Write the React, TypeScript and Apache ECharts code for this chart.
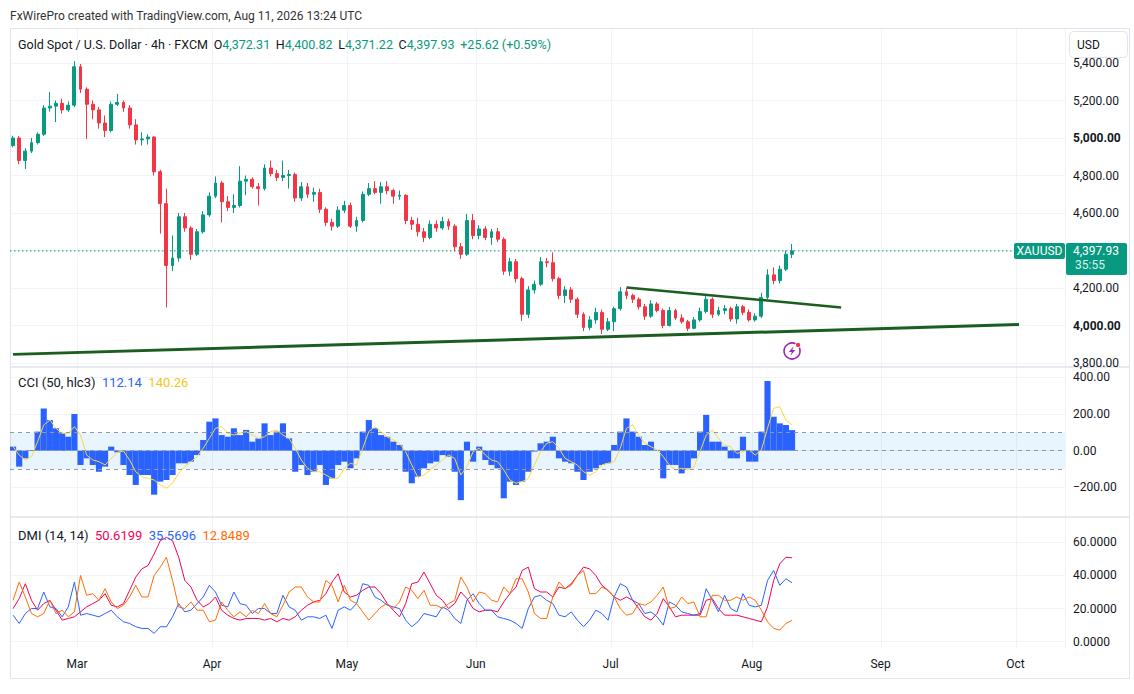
import React, { useEffect, useRef } from 'react';
import * as echarts from 'echarts';

const MONTHS = ['Jan', 'Feb', 'Mar', 'Apr', 'May', 'Jun', 'Jul', 'Aug', 'Sep', 'Oct', 'Nov', 'Dec'];

// time scale: trading days (weekdays), price data ends on Aug 11
const firstDay = '2026-02-13';
const lastDay = '2026-10-12';

const dates: string[] = [];
for (let t = Date.parse(firstDay); t <= Date.parse(lastDay); t += 86400000) {
  const d = new Date(t);
  const wd = d.getUTCDay();
  if (wd !== 0 && wd !== 6) dates.push(d.toISOString().slice(0, 10));
}

// daily candles: open, high, low, close
const candles: number[][] = [
  [4960, 5012, 4950, 5000], [5000, 5010, 4860, 4880], [4880, 4945, 4835, 4930], [4930, 5000, 4920, 4975],
  [4975, 5030, 4965, 5020], [5020, 5175, 5010, 5160], [5160, 5245, 5140, 5170], [5170, 5200, 5085, 5185],
  [5185, 5210, 5130, 5150], [5150, 5195, 5140, 5175], [5175, 5410, 5165, 5380], [5380, 5395, 5240, 5260],
  [5260, 5270, 4995, 5180], [5180, 5200, 5100, 5150], [5150, 5165, 5050, 5080], [5080, 5120, 5005, 5040],
  [5040, 5195, 5030, 5180], [5180, 5235, 5170, 5190], [5190, 5200, 5140, 5160], [5160, 5175, 5050, 5070],
  [5070, 5100, 4965, 4990], [4990, 5030, 4960, 4995], [4995, 5020, 4965, 5005], [5005, 5010, 4800, 4820],
  [4820, 4830, 4490, 4650], [4650, 4730, 4096, 4320], [4320, 4480, 4290, 4360], [4360, 4600, 4340, 4580],
  [4580, 4600, 4500, 4520], [4520, 4530, 4350, 4380], [4380, 4515, 4370, 4500], [4500, 4610, 4490, 4590],
  [4590, 4710, 4580, 4690], [4690, 4795, 4680, 4760], [4760, 4770, 4550, 4660], [4660, 4690, 4610, 4630],
  [4630, 4700, 4600, 4640], [4640, 4850, 4630, 4770], [4770, 4800, 4695, 4780], [4780, 4790, 4730, 4740],
  [4740, 4760, 4640, 4730], [4730, 4860, 4720, 4840], [4840, 4880, 4795, 4810], [4810, 4830, 4770, 4790],
  [4790, 4880, 4770, 4800], [4800, 4830, 4730, 4805], [4805, 4815, 4660, 4680], [4680, 4765, 4665, 4740],
  [4740, 4760, 4680, 4700], [4700, 4735, 4660, 4710], [4710, 4730, 4600, 4620], [4620, 4630, 4530, 4550],
  [4550, 4570, 4505, 4530], [4530, 4635, 4520, 4615], [4615, 4665, 4600, 4640], [4640, 4655, 4520, 4530],
  [4530, 4580, 4500, 4560], [4560, 4715, 4550, 4700], [4700, 4760, 4690, 4730], [4730, 4770, 4700, 4710],
  [4710, 4765, 4650, 4740], [4740, 4770, 4700, 4720], [4720, 4730, 4650, 4690], [4690, 4720, 4670, 4695],
  [4695, 4700, 4540, 4560], [4560, 4580, 4510, 4540], [4540, 4575, 4475, 4500], [4500, 4520, 4445, 4470],
  [4470, 4560, 4460, 4540], [4540, 4560, 4500, 4520], [4520, 4580, 4510, 4555], [4555, 4570, 4510, 4530],
  [4530, 4540, 4395, 4420], [4420, 4440, 4355, 4380], [4380, 4595, 4370, 4560], [4560, 4595, 4460, 4480],
  [4480, 4535, 4460, 4515], [4515, 4530, 4455, 4470], [4470, 4515, 4430, 4500], [4500, 4520, 4445, 4460],
  [4460, 4470, 4270, 4290], [4290, 4360, 4265, 4340], [4340, 4355, 4230, 4250], [4250, 4260, 4025, 4060],
  [4060, 4210, 4040, 4190], [4190, 4240, 4170, 4220], [4220, 4365, 4210, 4340], [4340, 4360, 4310, 4335],
  [4335, 4390, 4235, 4250], [4250, 4260, 4140, 4160], [4160, 4210, 4120, 4190], [4190, 4205, 4120, 4140],
  [4140, 4150, 4040, 4060], [4060, 4070, 3970, 3990], [3990, 4050, 3975, 4030], [4030, 4095, 4010, 4070],
  [4070, 4085, 3955, 3980], [3980, 4040, 3970, 4020], [4020, 4100, 3970, 4090], [4090, 4205, 4080, 4180],
  [4180, 4200, 4140, 4160], [4160, 4170, 4120, 4140], [4140, 4150, 4085, 4100], [4100, 4115, 4030, 4050],
  [4050, 4135, 4040, 4115], [4115, 4125, 4070, 4080], [4080, 4090, 3985, 4000], [4000, 4100, 3995, 4080],
  [4080, 4090, 4030, 4040], [4040, 4060, 4010, 4020], [4020, 4030, 3970, 3985], [3985, 4045, 3980, 4030],
  [4030, 4095, 4020, 4075], [4075, 4160, 4065, 4140], [4140, 4150, 4040, 4060], [4060, 4100, 4050, 4080],
  [4080, 4110, 4060, 4090], [4090, 4100, 4020, 4035], [4035, 4115, 4010, 4100], [4100, 4110, 4055, 4070],
  [4070, 4085, 4020, 4030], [4030, 4065, 4020, 4050], [4050, 4175, 4040, 4150], [4150, 4300, 4140, 4270],
  [4270, 4310, 4220, 4240], [4240, 4320, 4225, 4300], [4300, 4400, 4290, 4380], [4380, 4435, 4360, 4397.93],
];

// last 4h bar shown in the legend row
const lastBarOHLC = [4372.31, 4400.82, 4371.22, 4397.93];
const lastChange = [25.62, 0.59];
const countdown = '35:55';

// trend lines drawn on the chart: [date, price]
const supportLine = [['2026-02-13', 3846], ['2026-10-01', 4005]];
const resistanceLine = [['2026-07-03', 4203], ['2026-08-21', 4096]];

// CCI (50, hlc3) and its smoothing line
const cci = [
  22, -87, -42, 4, 104, 230, 167, 122, 95, 76, 200, -78, -42, -78, -115, -87, 22, -9, -78, -133,
  -187, -133, -133, -240, -169, -160, -133, -69, -69, -60, -24, 58, 158, 176, 85, 76, 122, 85, 113, 49,
  67, 149, 85, 104, 149, 67, -115, -78, -133, -115, -78, -187, -151, -78, -60, -96, -42, 104, 167, 122,
  85, 76, 49, 31, -115, -178, -142, -96, -69, -60, -24, -33, -115, -270, 49, -60, 22, -51, -78, -96,
  -260, -169, -187, -169, -115, -5, 40, 49, 76, -42, -60, -69, -115, -160, -115, -96, -78, -69, 31, 104,
  176, 104, 76, 31, 49, 4, -151, -78, -78, -124, -96, -42, 104, 195, 49, 49, 22, -42, -42, 76,
  -60, -60, 104, 380, 185, 149, 140, 112.14,
];
const cciSmooth = [
  22, -24, -51, -33, 49, 140, 167, 122, 95, 95, 131, 85, -24, -51, -60, -78, -42, -9, -2, -51,
  -115, -142, -151, -160, -187, -205, -178, -124, -87, -60, -33, 13, 67, 122, 131, 95, 85, 95, 104, 85,
  67, 76, 104, 113, 85, 67, 13, -51, -96, -115, -115, -133, -151, -151, -96, -69, -78, 13, 104, 131,
  104, 76, 58, 40, -5, -78, -146, -133, -105, -78, -51, -24, -42, -133, -87, -5, 13, -24, -51, -60,
  -105, -160, -178, -169, -151, -78, -5, 40, 49, 13, -42, -60, -78, -115, -133, -115, -78, -69, -60, 13,
  122, 140, 85, 40, 22, 4, -33, -78, -105, -96, -105, -87, -5, 85, 113, 67, 31, 22, -15, -5,
  4, -24, 4, 122, 231, 240, 167, 140.26,
];

// DMI (14, 14)
const adx = [
  20, 26, 35, 25, 19, 23, 25, 19, 13, 14, 15, 18, 21, 23, 25, 29, 22, 21, 23, 31,
  39, 44, 46, 53, 61, 63, 61, 51, 37, 33, 25, 21, 23, 27, 19, 16, 14, 13, 14, 14,
  14, 13, 14, 12, 14, 13, 15, 19, 22, 24, 25, 29, 36, 41, 30, 27, 28, 31, 33, 33,
  29, 23, 19, 15, 23, 35, 36, 42, 35, 28, 25, 20, 23, 30, 26, 20, 18, 19, 19, 18,
  24, 29, 33, 43, 45, 32, 30, 30, 27, 33, 32, 35, 40, 45, 44, 40, 34, 31, 27, 25,
  27, 25, 20, 15, 13, 17, 26, 21, 15, 16, 16, 16, 16, 25, 26, 20, 16, 16, 16, 15,
  14, 13, 12, 21, 37, 47, 51, 50.6199,
];
const plusDi = [
  16, 11, 17, 20, 20, 30, 21, 20, 15, 21, 36, 16, 17, 16, 15, 17, 19, 15, 12, 11,
  9, 8, 8, 5, 9, 9, 15, 23, 18, 19, 23, 27, 34, 30, 22, 21, 30, 23, 22, 17,
  20, 20, 17, 17, 28, 21, 19, 13, 15, 15, 14, 16, 8, 19, 21, 19, 23, 35, 34, 27,
  25, 22, 21, 20, 13, 9, 12, 17, 16, 15, 21, 19, 14, 11, 25, 29, 23, 19, 19, 15,
  14, 13, 11, 8, 20, 27, 28, 25, 23, 16, 15, 18, 13, 9, 13, 19, 17, 13, 27, 35,
  33, 25, 23, 17, 18, 15, 10, 24, 22, 18, 17, 16, 17, 32, 25, 18, 28, 20, 18, 29,
  22, 21, 22, 37, 43, 34, 38, 35.5696,
];
const minusDi = [
  25, 36, 27, 17, 15, 17, 25, 17, 19, 15, 18, 40, 28, 29, 25, 32, 24, 20, 22, 27,
  34, 27, 27, 40, 45, 51, 37, 21, 20, 24, 19, 19, 12, 13, 24, 19, 15, 18, 15, 19,
  17, 23, 17, 15, 22, 30, 33, 33, 27, 24, 24, 37, 34, 24, 34, 25, 23, 18, 13, 17,
  21, 23, 20, 24, 33, 31, 26, 31, 22, 22, 20, 23, 25, 39, 33, 24, 30, 29, 25, 24,
  33, 29, 38, 38, 30, 17, 14, 14, 27, 36, 32, 34, 40, 43, 29, 29, 33, 31, 27, 20,
  16, 17, 23, 22, 24, 28, 33, 20, 21, 27, 23, 24, 15, 15, 28, 28, 25, 25, 27, 25,
  27, 25, 19, 12, 8, 7, 11, 12.8489,
];

const priceTicks = { min: 3800, max: 5400, step: 200 };
const cciTicks = { min: -200, max: 400, step: 200 };
const dmiTicks = { min: 0, max: 60, step: 20 };

const UP = '#089981';
const DOWN = '#F23645';
const TEXT = '#131722';
const GRID = '#f0f3fa';
const FONT = 'Roboto, sans-serif';
const GAP = ' \u2009';

const fmt2 = (v: number) => v.toLocaleString('en-US', { minimumFractionDigits: 2, maximumFractionDigits: 2 });
const isMonthStart = (i: number) => i > 0 && dates[i].slice(5, 7) !== dates[i - 1].slice(5, 7);
const monthName = (v: string) => MONTHS[Number(v.slice(5, 7)) - 1];

const hiddenX = (gridIndex: number) => ({
  type: 'category',
  gridIndex,
  data: dates,
  axisLine: { show: false },
  axisTick: { show: false },
  axisLabel: { show: false },
  splitLine: { show: false },
});

const App = () => {
  const chartRef = useRef<HTMLDivElement>(null);

  useEffect(() => {
    const chart = echarts.init(chartRef.current, null, { renderer: 'svg' });
    const n = candles.length;
    const lastClose = candles[n - 1][3];

    const option: any = {
      animation: false,
      textStyle: { fontFamily: FONT },
      grid: [
        { left: 10, right: 69, top: 63, height: 300 },
        { left: 10, right: 69, top: 377.33, height: 110 },
        { left: 10, right: 69, top: 542.33, height: 99.33 },
        { left: 10, right: 69, top: 28, height: 621 },
      ],
      xAxis: [
        hiddenX(0),
        hiddenX(1),
        {
          ...hiddenX(2),
          axisLabel: {
            show: true,
            interval: (i: number) => isMonthStart(i),
            formatter: (v: string) => monthName(v),
            color: TEXT,
            fontSize: 12,
            margin: 16,
            padding: [0, 7, 0, 0],
          },
        },
        {
          ...hiddenX(3),
          splitLine: { show: true, interval: (i: number) => isMonthStart(i), lineStyle: { color: GRID, width: 1 } },
        },
      ],
      yAxis: [
        {
          type: 'value', gridIndex: 0, position: 'right',
          min: priceTicks.min, max: priceTicks.max, interval: priceTicks.step,
          axisLine: { show: false }, axisTick: { show: false },
          splitLine: { lineStyle: { color: GRID } },
          axisLabel: {
            color: TEXT, fontSize: 12, margin: 8,
            formatter: (v: number) => (v % 1000 === 0 ? `{b|${fmt2(v)}}` : fmt2(v)),
            rich: { b: { fontWeight: 'bold', fontSize: 12, color: TEXT, fontFamily: FONT } },
          },
        },
        {
          type: 'value', gridIndex: 1, position: 'right',
          min: cciTicks.min, max: cciTicks.max, interval: cciTicks.step,
          axisLine: { show: false }, axisTick: { show: false },
          splitLine: { lineStyle: { color: GRID } },
          axisLabel: { color: TEXT, fontSize: 12, margin: 8, formatter: (v: number) => v.toFixed(2).replace('-', '\u2212') },
        },
        {
          type: 'value', gridIndex: 2, position: 'right',
          min: dmiTicks.min, max: dmiTicks.max, interval: dmiTicks.step,
          axisLine: { show: false }, axisTick: { show: false },
          splitLine: { lineStyle: { color: GRID } },
          axisLabel: { color: TEXT, fontSize: 12, margin: 8, formatter: (v: number) => v.toFixed(4) },
        },
        {
          type: 'value', gridIndex: 3, min: 0, max: 1,
          axisLine: { show: false }, axisTick: { show: false }, axisLabel: { show: false }, splitLine: { show: false },
        },
      ],
      series: [
        {
          type: 'candlestick',
          xAxisIndex: 0, yAxisIndex: 0,
          clip: false,
          barWidth: '55%',
          data: candles.map(([o, h, l, c]) => [o, c, l, h]),
          itemStyle: { color: UP, color0: DOWN, borderColor: UP, borderColor0: DOWN, borderWidth: 1 },
        },
        {
          type: 'line', xAxisIndex: 0, yAxisIndex: 0, clip: false, symbol: 'none', silent: true,
          data: supportLine, lineStyle: { color: '#1B5E20', width: 3 }, z: 4,
        },
        {
          type: 'line', xAxisIndex: 0, yAxisIndex: 0, clip: false, symbol: 'none', silent: true,
          data: resistanceLine, lineStyle: { color: '#1B5E20', width: 2.5 }, z: 4,
        },
        {
          type: 'line', xAxisIndex: 1, yAxisIndex: 1, data: [], silent: true, z: 1,
          markArea: {
            silent: true,
            itemStyle: { color: 'rgba(33,150,243,0.1)' },
            data: [[{ yAxis: 100 }, { yAxis: -100 }]],
          },
          markLine: {
            silent: true, symbol: 'none', label: { show: false },
            lineStyle: { color: '#9598a1', type: [4, 4], width: 1 },
            data: [{ yAxis: 100 }, { yAxis: 0 }, { yAxis: -100 }],
          },
        },
        {
          type: 'bar', xAxisIndex: 1, yAxisIndex: 1, clip: false, silent: true, z: 2,
          barCategoryGap: '0%', data: cci, itemStyle: { color: '#2962FF' },
        },
        {
          type: 'line', xAxisIndex: 1, yAxisIndex: 1, clip: false, symbol: 'none', silent: true, z: 3,
          data: cciSmooth, lineStyle: { color: '#FDD835', width: 1 },
        },
        {
          type: 'line', xAxisIndex: 2, yAxisIndex: 2, clip: false, symbol: 'none', silent: true,
          data: adx, lineStyle: { color: '#F50057', width: 1 },
        },
        {
          type: 'line', xAxisIndex: 2, yAxisIndex: 2, clip: false, symbol: 'none', silent: true,
          data: plusDi, lineStyle: { color: '#2962FF', width: 1 },
        },
        {
          type: 'line', xAxisIndex: 2, yAxisIndex: 2, clip: false, symbol: 'none', silent: true,
          data: minusDi, lineStyle: { color: '#FF6D00', width: 1 },
        },
      ],
    };
    chart.setOption(option);

    // labels that sit on the last price and under the last bar
    const yLast = chart.convertToPixel({ yAxisIndex: 0 }, lastClose) as number;
    const xLast = chart.convertToPixel({ xAxisIndex: 0 }, n - 1) as number;
    const [o, h, l, c] = lastBarOHLC;

    const elements: any[] = [
      { type: 'rect', shape: { x: 10.5, y: 28.5, width: 1119, height: 650 }, style: { fill: 'none', stroke: '#e0e3eb', lineWidth: 1 }, silent: true },
      { type: 'line', shape: { x1: 10, y1: 367, x2: 1129, y2: 367 }, style: { stroke: '#e0e3eb', lineWidth: 1.5 }, silent: true },
      { type: 'line', shape: { x1: 10, y1: 517, x2: 1129, y2: 517 }, style: { stroke: '#e0e3eb', lineWidth: 1.5 }, silent: true },
      // last price line
      {
        type: 'line', shape: { x1: 10, y1: yLast, x2: 1014, y2: yLast }, z: 3, silent: true,
        style: { stroke: UP, lineWidth: 1, lineDash: [1.5, 2.5] },
      },
      {
        type: 'text', x: 10, y: 16, silent: true,
        style: { text: 'FxWirePro created with TradingView.com, Aug 11, 2026 13:24 UTC', fill: '#333', fontSize: 12, fontFamily: FONT, verticalAlign: 'middle' },
      },
      {
        type: 'text', x: 18, y: 44, silent: true, z: 10,
        style: {
          text: `Gold Spot / U.S. Dollar · 4h · FXCM${GAP}O{g|${fmt2(o)}}${GAP}H{g|${fmt2(h)}}${GAP}L{g|${fmt2(l)}}${GAP}C{g|${fmt2(c)}}${GAP}{g|+${fmt2(lastChange[0])} (+${lastChange[1].toFixed(2)}%)}`,
          fill: TEXT, fontSize: 12.5, fontFamily: FONT, verticalAlign: 'middle',
          rich: { g: { fill: UP, fontSize: 12.5, fontFamily: FONT } },
        },
      },
      {
        type: 'text', x: 18, y: 382, silent: true, z: 10,
        style: {
          text: `CCI (50, hlc3)  {b|${cci[n - 1].toFixed(2)}}  {y|${cciSmooth[n - 1].toFixed(2)}}`,
          fill: TEXT, fontSize: 13, fontFamily: FONT, verticalAlign: 'middle',
          rich: { b: { fill: '#2962FF', fontSize: 13, fontFamily: FONT }, y: { fill: '#F5C518', fontSize: 13, fontFamily: FONT } },
        },
      },
      {
        type: 'text', x: 18, y: 535, silent: true, z: 10,
        style: {
          text: `DMI (14, 14)  {r|${adx[n - 1].toFixed(4)}}  {b|${plusDi[n - 1].toFixed(4)}}  {o|${minusDi[n - 1].toFixed(4)}}`,
          fill: TEXT, fontSize: 13, fontFamily: FONT, verticalAlign: 'middle',
          rich: {
            r: { fill: '#F50057', fontSize: 13, fontFamily: FONT },
            b: { fill: '#2962FF', fontSize: 13, fontFamily: FONT },
            o: { fill: '#FF6D00', fontSize: 13, fontFamily: FONT },
          },
        },
      },
      // currency box over the price scale
      { type: 'rect', shape: { x: 1069.5, y: 31.5, width: 58, height: 26, r: 4 }, style: { fill: '#fff', stroke: '#e0e3eb', lineWidth: 1 }, z: 20, silent: true },
      { type: 'text', x: 1077, y: 44.5, style: { text: 'USD', fill: TEXT, fontSize: 12, fontFamily: FONT, verticalAlign: 'middle' }, z: 21, silent: true },
      // symbol + last price labels
      { type: 'rect', shape: { x: 1014, y: yLast - 8, width: 51, height: 16, r: 2 }, style: { fill: UP }, z: 20, silent: true },
      { type: 'text', x: 1039.5, y: yLast, style: { text: 'XAUUSD', fill: '#fff', fontSize: 12, fontFamily: FONT, align: 'center', verticalAlign: 'middle' }, z: 21, silent: true },
      { type: 'rect', shape: { x: 1066, y: yLast - 8, width: 61, height: 32, r: 2 }, style: { fill: UP }, z: 20, silent: true },
      { type: 'text', x: 1073, y: yLast, style: { text: fmt2(lastClose), fill: '#fff', fontSize: 12, fontFamily: FONT, verticalAlign: 'middle' }, z: 21, silent: true },
      { type: 'text', x: 1075, y: yLast + 14, style: { text: countdown, fill: '#d5f2ec', fontSize: 12, fontFamily: FONT, verticalAlign: 'middle' }, z: 21, silent: true },
      // event marker under the last bar
      {
        type: 'group', x: xLast, y: 351, z: 20, silent: true,
        children: [
          { type: 'circle', shape: { cx: 0, cy: 0, r: 8 }, style: { fill: '#fff', stroke: '#9C27B0', lineWidth: 1.6 } },
          { type: 'polygon', shape: { points: [[1.8, -5], [-3.2, 1], [-0.2, 1], [-1.8, 5], [3.2, -1], [0.2, -1]] }, style: { fill: '#9C27B0' } },
          { type: 'circle', shape: { cx: 6, cy: -6, r: 2.6 }, style: { fill: '#F23645', stroke: '#fff', lineWidth: 1 } },
        ],
      },
    ];
    chart.setOption({ graphic: { elements } });

    return () => chart.dispose();
  }, []);

  return (
    <div
      ref={chartRef}
      style={{ position: 'fixed', left: 0, top: 0, width: 1134, height: 694, background: '#fff' }}
    />
  );
};

export default App;
